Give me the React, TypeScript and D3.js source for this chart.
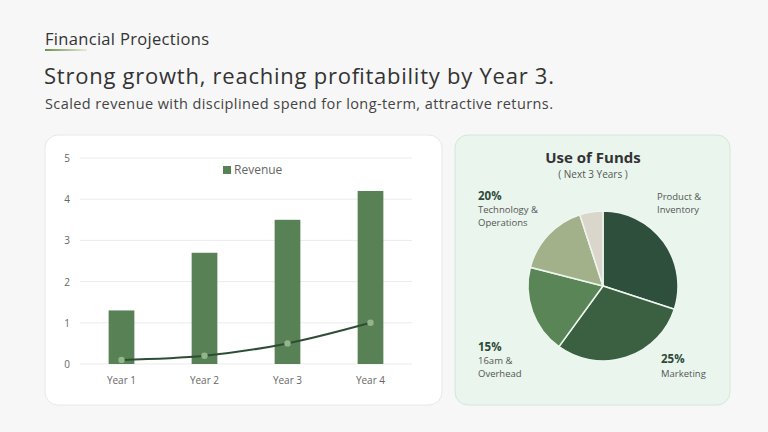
import * as d3 from "d3";

// bar chart data
const years = ["Year 1", "Year 2", "Year 3", "Year 4"];
const revenue = [1.3, 2.7, 3.5, 4.2];
const profitLine = [0.1, 0.2, 0.5, 1.0];
const yTicks = [0, 1, 2, 3, 4, 5];

// pie data
const fundNames = ["Product & Inventory", "Marketing", "G&A", "Technology", "Other"];
const fundShares = [30, 30, 19, 16, 5];
const fundColors = ["#2f4f3d", "#3b5f41", "#5a8657", "#a3b18b", "#dad6cc"];

const FONT = "'Open Sans', 'DejaVu Sans', sans-serif";

function BarPanel() {
  const x = d3.scaleBand().domain(years).range([80, 412]).paddingInner(0.69).paddingOuter(0.345);
  const y = d3.scaleLinear().domain([0, 5]).range([364, 158]);
  const line = d3
    .line<number>()
    .x((_, i) => (x(years[i]) ?? 0) + x.bandwidth() / 2)
    .y((d) => y(d))
    .curve(d3.curveMonotoneX);

  return (
    <g>
      <rect x={45} y={135} width={397} height={270} rx={13} fill="#ffffff" stroke="#e8e8e8" />
      {yTicks.map((t) => (
        <g key={t}>
          <line x1={80} x2={412} y1={y(t)} y2={y(t)} stroke="#ebebeb" />
          <text x={67} y={y(t) + 4} fontSize={10} fill="#666" textAnchor="middle" fontFamily={FONT}>
            {t}
          </text>
        </g>
      ))}
      {years.map((yr, i) => (
        <rect key={yr} x={x(yr)} y={y(revenue[i])} width={x.bandwidth()} height={y(0) - y(revenue[i])} fill="#588255" />
      ))}
      <path d={line(profitLine) ?? ""} fill="none" stroke="#2e4d37" strokeWidth={2} />
      {profitLine.map((v, i) => (
        <circle key={i} cx={(x(years[i]) ?? 0) + x.bandwidth() / 2} cy={y(v)} r={3.2} fill="#93b58a" />
      ))}
      {years.map((yr) => (
        <text key={yr} x={(x(yr) ?? 0) + x.bandwidth() / 2} y={384} fontSize={10} fill="#666" textAnchor="middle" fontFamily={FONT}>
          {yr}
        </text>
      ))}
      {/* legend */}
      <rect x={223} y={166} width={8} height={8} fill="#588255" />
      <text x={234} y={174} fontSize={12} fill="#666" fontFamily={FONT}>
        Revenue
      </text>
    </g>
  );
}

function PiePanel() {
  const cx = 603;
  const cy = 286;
  const pie = d3.pie<number>().sort(null).value((d) => d);
  const arc = d3.arc<d3.PieArcDatum<number>>().innerRadius(0).outerRadius(75);
  const arcs = pie(fundShares);
  const lbl = { fontFamily: FONT, fill: "#555", fontSize: 9.5 };
  const pct = { fontFamily: FONT, fill: "#2f4a38", fontSize: 11.5, fontWeight: 700 };

  return (
    <g>
      <rect x={455} y={135} width={275} height={270} rx={13} fill="#e9f5ed" stroke="#d3e8da" />
      <text x={593} y={163} textAnchor="middle" fontSize={15} fontWeight={700} fill="#333" fontFamily={FONT}>
        Use of Funds
      </text>
      <text x={593} y={178} textAnchor="middle" fontSize={10} fill="#555" fontFamily={FONT}>
        ( Next 3 Years )
      </text>
      <g transform={`translate(${cx},${cy})`}>
        {arcs.map((a, i) => (
          <path key={fundNames[i]} d={arc(a) ?? ""} fill={fundColors[i]} stroke="#eef6ef" strokeWidth={1.5} />
        ))}
      </g>
      <text x={478} y={200} {...pct}>20%</text>
      <text x={478} y={213} {...lbl}>Technology &amp;</text>
      <text x={478} y={226} {...lbl}>Operations</text>
      <text x={657} y={200} {...lbl}>Product &amp;</text>
      <text x={657} y={213} {...lbl}>Inventory</text>
      <text x={478} y={351} {...pct}>15%</text>
      <text x={478} y={364} {...lbl}>16am &amp;</text>
      <text x={478} y={377} {...lbl}>Overhead</text>
      <text x={661} y={363} {...pct}>25%</text>
      <text x={661} y={377} {...lbl}>Marketing</text>
    </g>
  );
}

export default function App() {
  return (
    <div style={{ position: "absolute", left: 0, top: 0 }}>
      <svg width={768} height={432} style={{ display: "block" }}>
        <defs>
          <linearGradient id="uline" x1="0" x2="1" y1="0" y2="0">
            <stop offset="0%" stopColor="#6f8f4a" />
            <stop offset="100%" stopColor="#e6ecd6" />
          </linearGradient>
        </defs>
        <rect width={768} height={432} fill="#f7f7f7" />
        <text x={45} y={45} fontSize={16.5} fontWeight={500} fill="#333" fontFamily={FONT} textLength={164}>
          Financial Projections
        </text>
        <rect x={45} y={49} width={42} height={2} fill="url(#uline)" />
        <text x={44} y={84} fontSize={22} fontWeight={500} fill="#333" fontFamily={FONT} textLength={510}>
          Strong growth, reaching profitability by Year 3.
        </text>
        <text x={45} y={109} fontSize={14.5} fill="#444" fontFamily={FONT} textLength={508}>
          Scaled revenue with disciplined spend for long-term, attractive returns.
        </text>
        <BarPanel />
        <PiePanel />
      </svg>
    </div>
  );
}
